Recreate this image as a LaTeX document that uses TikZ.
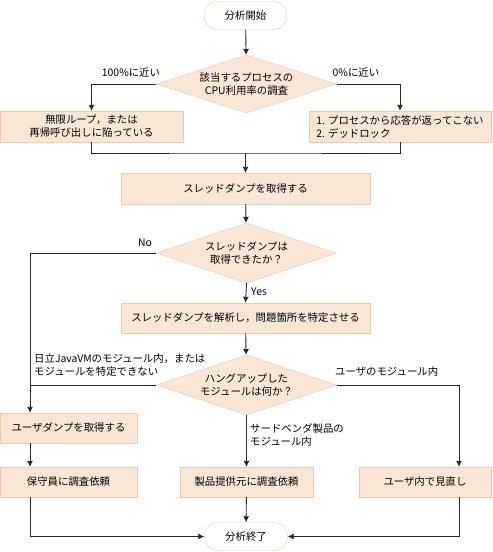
\documentclass[tikz,border=0pt]{standalone}
\usepackage{fontspec}
\setmainfont{Noto Sans CJK JP}
\usetikzlibrary{shapes.geometric,arrows.meta,positioning}

\definecolor{boxfill}{RGB}{249,230,213}
\definecolor{boxline}{RGB}{240,202,168}

\begin{document}
\begin{tikzpicture}[x=1pt,y=-1pt,font=\fontsize{10.4}{13}\selectfont]
  \tikzset{
    terminal/.style={draw=boxline, fill=white, rounded corners=13.5pt, minimum width=83pt, minimum height=28pt, inner sep=0pt},
    process/.style={draw=boxline, fill=boxfill, minimum height=31pt, inner sep=0pt, align=center},
    decision/.style={diamond, draw=boxline, fill=boxfill, minimum width=180pt, minimum height=60pt, inner sep=0pt, aspect=3, align=center},
    label/.style={draw=none, inner sep=0pt},
    myline/.style={line width=0.9pt, black!85},
    myarrow/.style={->, >={Latex[length=6pt,width=6pt]}, myline},
  }
  \useasboundingbox (0,0) rectangle (493,552);

  % nodes
  \node[terminal] (start) at (245.5,15.5) {分析開始};
  \node[decision, minimum height=58pt] (cpu) at (246.5,84) {該当するプロセスの\\CPU利用率の調査};
  \node[process, minimum width=183pt] (loop) at (91.5,126.5) {無限ループ，または\\再帰呼び出しに陥っている};
  \node[process, minimum width=182pt, align=left] (idle) at (400,126.5) {1. プロセスから応答が返ってこない\\2. デッドロック};
  \node[process, minimum width=249pt] (getdump) at (245.5,188.5) {スレッドダンプを取得する};
  \node[decision] (gotdump) at (246.5,253) {スレッドダンプは\\取得できたか？};
  \node[process, minimum width=249pt, minimum height=30pt] (analyze) at (245.5,318) {スレッドダンプを解析し，問題箇所を特定させる};
  \node[decision] (module) at (246.5,385) {ハングアップした\\モジュールは何か？};
  \node[process, minimum width=137pt, minimum height=30pt] (userdump) at (68.5,428) {ユーザダンプを取得する};
  \node[process, minimum width=137pt, minimum height=30pt] (support) at (68.5,482) {保守員に調査依頼};
  \node[process, minimum width=133pt, minimum height=30pt] (vendor) at (246.5,482) {製品提供元に調査依頼};
  \node[process, minimum width=132pt, minimum height=30pt] (review) at (425,482) {ユーザ内で見直し};
  \node[terminal] (fin) at (246,536.5) {分析終了};

  % corners
  \coordinate (merge) at (245.5,153);
  \coordinate (nocorner) at (30,253);
  \coordinate (usercorner) at (459,385);

  % connectors
  \draw[myarrow] (start) -- (cpu);
  \draw[myarrow] (cpu.west) -| (loop.north);
  \draw[myarrow] (cpu.east) -| (idle.north);
  \draw[myline] (loop.south) |- (merge) -| (idle.south);
  \draw[myarrow] (merge) -- (getdump.north);
  \draw[myarrow] (getdump) -- (gotdump);
  \draw[myline] (gotdump.west) -- (nocorner);
  \draw[myarrow] (nocorner) -- (userdump.north -| nocorner);
  \draw[myarrow] (gotdump.south) -- (analyze.north);
  \draw[myarrow] (analyze) -- (module);
  \draw[myline] (module.west) -- (module.west -| nocorner);
  \draw[myarrow] (module.east) -| (review.north -| usercorner);
  \draw[myarrow] (module.south) -- (vendor.north);
  \draw[myarrow] (userdump.south -| nocorner) -- (support.north -| nocorner);
  \draw[myarrow] (support.south -| nocorner) |- (fin.west);
  \draw[myarrow] (vendor) -- (fin);
  \draw[myarrow] (review.south -| usercorner) |- (fin.east);

  % branch labels
  \node[label] (l100) at (131,73) {100\%に近い};
  \node[label] (l0) at (356,73) {0\%に近い};
  \node[label] (lno) at (145,243) {No};
  \node[label, anchor=west] (lyes) at (251,292) {Yes};
  \node[label, anchor=west, align=left] (lhitachi) at (34,365.5) {日立JavaVMのモジュール内，または\\モジュールを特定できない};
  \node[label, anchor=west] (luser) at (335,372) {ユーザのモジュール内};
  \node[label, anchor=west, align=left] (lthird) at (250,435) {サードベンダ製品の\\モジュール内};

\end{tikzpicture}
\end{document}
